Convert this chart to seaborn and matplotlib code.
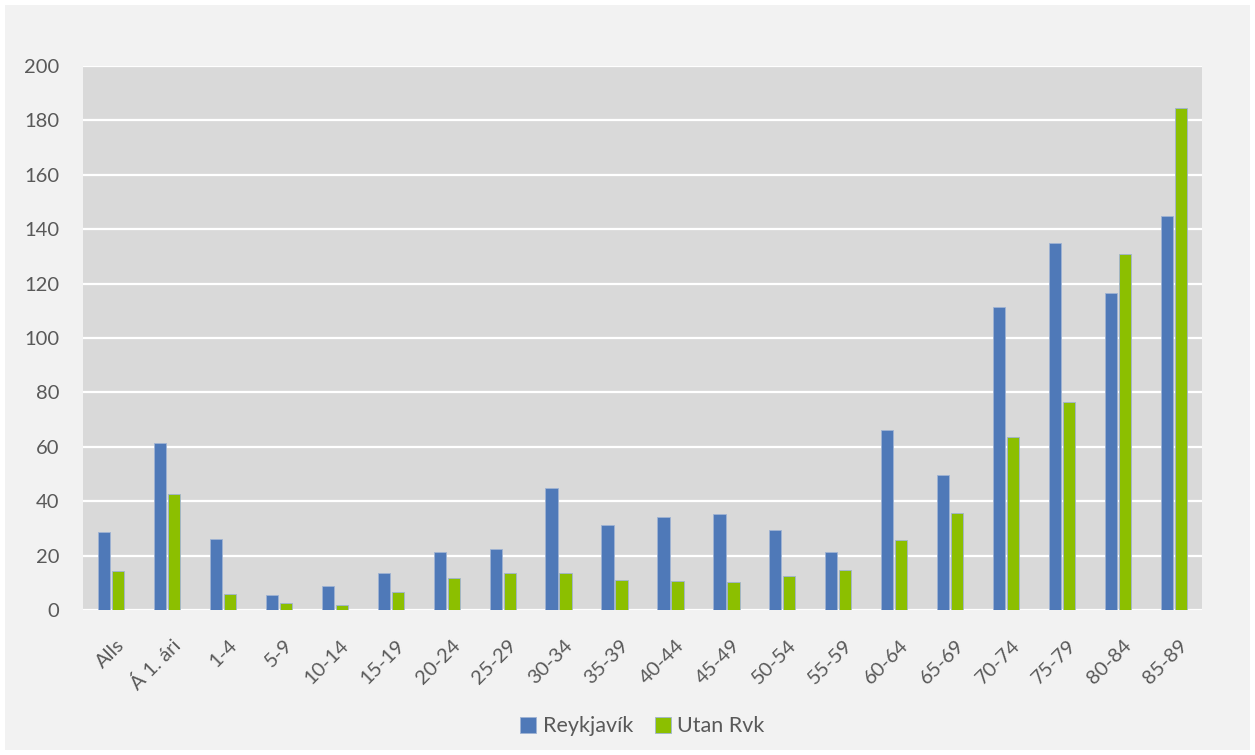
import pandas as pd
import seaborn as sns
import matplotlib.pyplot as plt
import matplotlib.transforms as mtransforms
from matplotlib.patches import Rectangle

# age groups and rates
categories = ['Alls', 'Á 1. ári', '1-4', '5-9', '10-14', '15-19', '20-24', '25-29',
              '30-34', '35-39', '40-44', '45-49', '50-54', '55-59', '60-64', '65-69',
              '70-74', '75-79', '80-84', '85-89']
reykjavik = [28.5, 61.5, 26.0, 5.5, 9.0, 13.7, 21.5, 22.3, 45.0, 31.2,
             34.2, 35.2, 29.5, 21.2, 66.2, 49.5, 111.3, 134.8, 116.7, 145.0]
utan_rvk = [14.3, 42.8, 5.8, 2.7, 1.7, 6.5, 11.7, 13.7, 13.7, 11.2,
            10.5, 10.3, 12.4, 14.7, 25.6, 35.5, 63.5, 76.3, 130.7, 184.4]
series = ['Reykjavík', 'Utan Rvk']
yticks = [0, 20, 40, 60, 80, 100, 120, 140, 160, 180, 200]

df = pd.DataFrame({'Aldur': categories * 2,
                   'Gildi': reykjavik + utan_rvk,
                   'Svæði': [series[0]] * len(categories) + [series[1]] * len(categories)})

sns.set_style('white')
plt.rcParams['font.family'] = ['Lato', 'DejaVu Sans']
txt = '#595959'

fig = plt.figure(figsize=(12.55, 7.55), dpi=100, facecolor='white')
# light grey chart area inside a thin white frame
fig.patches.append(Rectangle((5 / 1255, 5 / 755), 1245 / 1255, 745 / 755,
                             transform=fig.transFigure, facecolor='#f2f2f2',
                             edgecolor='none', zorder=-5))
ax = fig.add_axes([83 / 1255, 1 - 610 / 755, 1119 / 1255, 544 / 755])
ax.set_facecolor('#d9d9d9')

sns.barplot(data=df, x='Aldur', y='Gildi', hue='Svæði', ax=ax,
            palette=['#4f79b8', '#8cbf00'], saturation=1, width=0.5, gap=0.13,
            edgecolor='#9fb3d3', linewidth=0.6)

ax.set_ylim(0, 200)
ax.set_yticks(yticks)
ax.yaxis.grid(True, color='white', linewidth=1.6)
ax.set_axisbelow(True)
for s in ax.spines.values():
    s.set_visible(False)
ax.set_xlabel('')
ax.set_ylabel('')
ax.tick_params(axis='both', length=0, labelsize=14.5, colors=txt)
ax.tick_params(axis='x', pad=19)
ax.tick_params(axis='y', pad=17)
# nudge rotated labels a bit to the right, like the original
shift = mtransforms.ScaledTranslation(5 / 100, 0, fig.dpi_scale_trans)
for lab in ax.get_xticklabels():
    lab.set_rotation(45)
    lab.set_ha('right')
    lab.set_rotation_mode('anchor')
    lab.set_transform(lab.get_transform() + shift)

leg = ax.legend(loc='upper center', bbox_to_anchor=(0.5, -0.16), ncol=2, frameon=False,
                fontsize=15.5, handlelength=0.75, handleheight=0.75, handletextpad=0.3,
                columnspacing=1.0, labelcolor=txt)

fig.savefig('out.png', dpi=100, facecolor=fig.get_facecolor())
